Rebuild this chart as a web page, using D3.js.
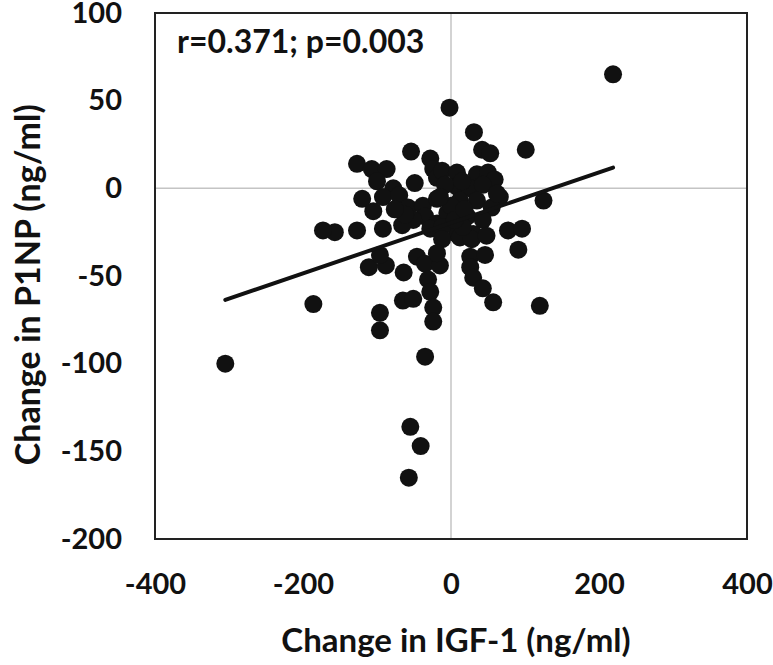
<!DOCTYPE html>
<html>
<head>
<meta charset="utf-8">
<script src="https://cdn.jsdelivr.net/npm/d3@7"></script>
<style>
  body { margin: 0; background: #fff; }
  text { font-family: Lato, "Open Sans", sans-serif; font-weight: bold; fill: #111; }
</style>
</head>
<body>
<div id="chart"></div>
<script>
// change in IGF-1 vs change in P1NP
var igfChange = [
  219, -2, 31, 42, 53, 101, -54, -28, -127, -107,
  -87, -100, -78, -49, -120, -105, -92, -70, -58, -38,
  -35, -51, -24, -19, -19, -19, -157, -173, -127, -92,
  -66, -28, -62, -12, 8, 35, 50, 59, 8, 26,
  43, 66, 12, 35, 55, 125, -5, 22, 43, 77,
  96, 30, 8, -12, -12, 12, 28, 48, 91, -46,
  -35, -15, -19, 26, 46, 26, 30, 43, 57, 120,
  -64, -31, -28, -65, -51, -24, -24, -111, -88, -96,
  -96, -96, -35, -55, -41, -57, -305, -186, -76, 16,
  -8, 0, 5, 18, 15, -15, 62
];
var p1npChange = [
  65, 46, 32, 22, 20, 22, 21, 17, 14, 11,
  11, 4, 0, 3, -6, -13, -5, -4, -11, -10,
  -16, -18, 11, 6, -6, -20, -25, -24, -24, -23,
  -21, -23, -15, 10, 9, 8, 9, 5, 1, 0,
  2, -5, -7, -7, -11, -7, -14, -16, -18, -24,
  -23, -26, -26, -22, -29, -28, -29, -27, -35, -39,
  -43, -44, -37, -39, -38, -45, -51, -57, -65, -67,
  -48, -52, -59, -64, -63, -68, -76, -45, -44, -38,
  -71, -81, -96, -136, -147, -165, -100, -66, -12, -22,
  2, -10, -18, -12, 4, -5, -3
];

var xTicks = [-400, -200, 0, 200, 400];
var yTicks = [-200, -150, -100, -50, 0, 50, 100];

// fitted line as drawn
var trendSlope = 0.144;
var trendIntercept = -19.7;
var statsLabel = "r=0.371; p=0.003";

var width = 773, height = 665;
var margin = {top: 13, right: 26, bottom: 126, left: 155};

var svg = d3.select("#chart").append("svg")
    .attr("width", width)
    .attr("height", height);

var x = d3.scaleLinear().domain([-400, 400]).range([margin.left, width - margin.right]);
var y = d3.scaleLinear().domain([-200, 100]).range([height - margin.bottom, margin.top]);

// zero lines
svg.append("line")
    .attr("x1", x(-400)).attr("x2", x(400))
    .attr("y1", y(0)).attr("y2", y(0))
    .style("stroke", "#c4c4c4").style("stroke-width", 1.5);
svg.append("line")
    .attr("x1", x(0)).attr("x2", x(0))
    .attr("y1", y(-200)).attr("y2", y(100))
    .style("stroke", "#c4c4c4").style("stroke-width", 1.5);

var pts = igfChange.map(function(d, i) { return [d, p1npChange[i]]; });

svg.append("g").selectAll("circle")
    .data(pts)
  .enter().append("circle")
    .attr("cx", function(d) { return x(d[0]); })
    .attr("cy", function(d) { return y(d[1]); })
    .attr("r", 9)
    .style("fill", "#111");

var xExt = d3.extent(igfChange);
svg.append("line")
    .attr("x1", x(xExt[0])).attr("y1", y(trendSlope * xExt[0] + trendIntercept))
    .attr("x2", x(xExt[1])).attr("y2", y(trendSlope * xExt[1] + trendIntercept))
    .style("stroke", "#111").style("stroke-width", 4)
    .style("stroke-linecap", "round");

// frame
svg.append("rect")
    .attr("x", x(-400)).attr("y", y(100))
    .attr("width", x(400) - x(-400)).attr("height", y(-200) - y(100))
    .style("fill", "none").style("stroke", "#222").style("stroke-width", 2);

// plain hyphen minus, like the original
var fmt = function(d) { return String(d); };

var xAxis = svg.append("g")
    .attr("transform", "translate(0," + (y(-200) + 12) + ")")
    .call(d3.axisBottom(x).tickValues(xTicks).tickFormat(fmt).tickSize(0).tickPadding(22));
var yAxis = svg.append("g")
    .attr("transform", "translate(" + (x(-400) - 33) + ",0)")
    .call(d3.axisLeft(y).tickValues(yTicks).tickFormat(fmt).tickSize(0).tickPadding(0));
[xAxis, yAxis].forEach(function(a) {
  a.select(".domain").remove();
  a.selectAll("text").style("font-size", "29px").style("font-family", null);
});

svg.append("text")
    .attr("x", x(0) + 5).attr("y", 652)
    .attr("text-anchor", "middle")
    .style("font-size", "33px")
    .text("Change in IGF-1 (ng/ml)");

svg.append("text")
    .attr("transform", "translate(40," + y(-55) + ") rotate(-90)")
    .attr("text-anchor", "middle")
    .style("font-size", "34px")
    .text("Change in P1NP (ng/ml)");

svg.append("text")
    .attr("x", x(-400) + 22).attr("y", 53)
    .style("font-size", "32px")
    .text(statsLabel);
</script>
</body>
</html>
